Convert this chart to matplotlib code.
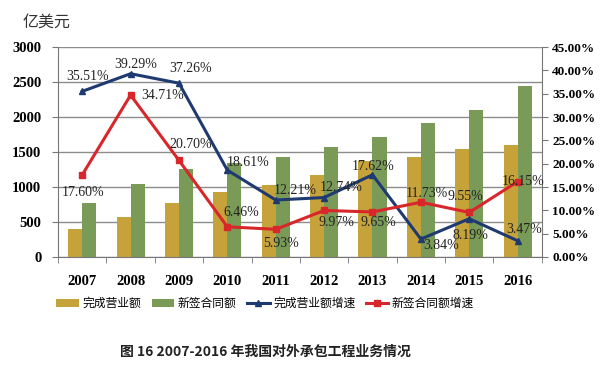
import numpy as np
import matplotlib.pyplot as plt

# 数据
years = ['2007', '2008', '2009', '2010', '2011', '2012', '2013', '2014', '2015', '2016']
wancheng = [406, 566, 777, 922, 1034, 1166, 1371, 1424, 1541, 1594]
xinqian = [776, 1046, 1262, 1344, 1423, 1565, 1716, 1918, 2101, 2440]
wancheng_zs = [35.51, 39.29, 37.26, 18.61, 12.21, 12.74, 17.62, 3.84, 8.19, 3.47]
xinqian_zs = [17.60, 34.71, 20.70, 6.46, 5.93, 9.97, 9.65, 11.73, 9.55, 16.15]

# 标签偏移 (像素, 文字中心相对于点)
blue_off = [(5, 15), (5, 9), (12, 15), (21, 8), (20, 10), (17, 10), (1, 8), (20, -6), (1, -17), (7, 11)]
red_off = [(1, -18), (32, 0), (12, 16), (14, 14), (5, -14), (12, -12), (6, -11), (6, 9), (-4, 16), (5, 0)]

plt.rcParams['font.family'] = ['Liberation Serif', 'Noto Sans CJK SC']
cjk = ['Noto Sans CJK SC', 'DejaVu Sans']

gold = '#C6A23A'
green = '#7A9A57'
blue = '#1F3A70'
red = '#D8262B'

fig = plt.figure(figsize=(6.07, 3.65), dpi=100)
ax1 = fig.add_axes([0.0956, 0.296, 0.797, 0.575])
x = np.arange(len(years))
w = 0.29

b1 = ax1.bar(x - w / 2, wancheng, w, color=gold, label='完成营业额', zorder=2)
b2 = ax1.bar(x + w / 2, xinqian, w, color=green, label='新签合同额', zorder=2)
ax1.set_ylim(0, 3000)
ax1.set_xlim(-0.5, len(years) - 0.5)
ax1.set_yticks(range(0, 3001, 500))
ax1.yaxis.grid(True, color='#8C8C8C', linewidth=1.0, zorder=0)
ax1.set_axisbelow(True)
ax1.set_xticks(x)
ax1.set_xticklabels(years, fontweight='bold', fontsize=10.5)
ax1.set_xticks(np.arange(-0.5, len(years)), minor=True)
ax1.tick_params(axis='x', which='major', length=0, pad=13)
ax1.tick_params(axis='x', which='minor', length=4, color='#777777')
ax1.tick_params(axis='y', length=4, color='#777777', labelsize=10.5, pad=8)
for lab in ax1.get_yticklabels():
    lab.set_fontweight('bold')
for s in ['top', 'right']:
    ax1.spines[s].set_visible(False)
for s in ['left', 'bottom']:
    ax1.spines[s].set_color('#777777')

ax2 = ax1.twinx()
l1, = ax2.plot(x, wancheng_zs, color=blue, linewidth=2.2, marker='^', markersize=5, label='完成营业额增速', zorder=4)
l2, = ax2.plot(x, xinqian_zs, color=red, linewidth=2.2, marker='s', markersize=5, label='新签合同额增速', zorder=4)
ax2.set_ylim(0, 45)
ax2.set_yticks(range(0, 46, 5))
ax2.set_yticklabels([f'{v:.2f}%' for v in range(0, 46, 5)], fontweight='bold', fontsize=9.5)
ax2.tick_params(axis='y', length=4, color='#777777')
for s in ['top', 'left', 'bottom']:
    ax2.spines[s].set_visible(False)
ax2.spines['right'].set_color('#777777')

for i in range(len(years)):
    ax2.annotate(f'{wancheng_zs[i]:.2f}%', (x[i], wancheng_zs[i]), xytext=blue_off[i],
                 textcoords='offset pixels', ha='center', va='center', fontsize=10, color='#222222', zorder=5)
    ax2.annotate(f'{xinqian_zs[i]:.2f}%', (x[i], xinqian_zs[i]), xytext=red_off[i],
                 textcoords='offset pixels', ha='center', va='center', fontsize=10, color='#222222', zorder=5)

fig.text(0.037, 0.94, '亿美元', family=cjk, fontsize=11.5, color='#333333', va='center')

fig.legend([b1, b2, l1, l2], ['完成营业额', '新签合同额', '完成营业额增速', '新签合同额增速'],
           loc='center', bbox_to_anchor=(0.437, 0.168), ncol=4, frameon=False,
           prop={'family': cjk, 'size': 8.5}, handlelength=1.9, columnspacing=0.9, handletextpad=0.3)

fig.text(0.437, 0.035, '图 16 2007-2016 年我国对外承包工程业务情况', family=cjk,
         fontsize=10, fontweight='bold', ha='center', va='center', color='#222222')

fig.savefig('out.png', dpi=100)
